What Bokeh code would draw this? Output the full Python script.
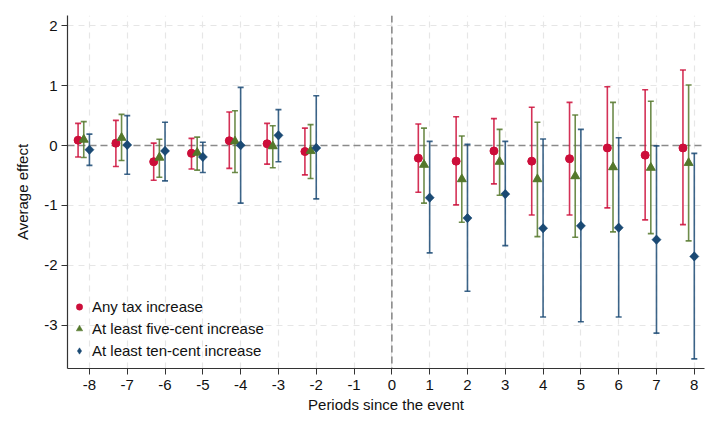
from bokeh.plotting import figure
from bokeh.models import (ColumnDataSource, Whisker, TeeHead, Span, Legend, LegendItem,
                          FixedTicker, Range1d, CustomJSTickFormatter)
from bokeh.embed import file_html
from bokeh.resources import INLINE
import math

periods = [-8, -7, -6, -5, -4, -3, -2, 1, 2, 3, 4, 5, 6, 7, 8]

any_est = [0.09, 0.04, -0.27, -0.13, 0.08, 0.03, -0.10, -0.21, -0.26, -0.09, -0.26, -0.22, -0.04, -0.16, -0.04]
any_lo = [-0.19, -0.35, -0.58, -0.39, -0.38, -0.31, -0.49, -0.78, -0.99, -0.64, -1.16, -1.16, -1.04, -1.24, -1.32]
any_hi = [0.37, 0.42, 0.04, 0.12, 0.56, 0.37, 0.29, 0.36, 0.48, 0.45, 0.64, 0.72, 0.98, 0.93, 1.26]

five_est = [0.10, 0.13, -0.20, -0.12, 0.07, -0.01, -0.09, -0.32, -0.56, -0.27, -0.56, -0.51, -0.36, -0.37, -0.29]
five_lo = [-0.20, -0.25, -0.53, -0.41, -0.45, -0.37, -0.55, -0.96, -1.28, -0.83, -1.52, -1.53, -1.44, -1.47, -1.59]
five_hi = [0.40, 0.52, 0.105, 0.14, 0.58, 0.33, 0.35, 0.29, 0.16, 0.27, 0.39, 0.51, 0.72, 0.74, 1.01]

ten_est = [-0.07, 0.01, -0.09, -0.19, 0.005, 0.17, -0.04, -0.87, -1.21, -0.81, -1.38, -1.34, -1.37, -1.57, -1.85]
ten_lo = [-0.33, -0.48, -0.59, -0.45, -0.96, -0.27, -0.89, -1.79, -2.43, -1.67, -2.86, -2.94, -2.86, -3.13, -3.56]
ten_hi = [0.19, 0.50, 0.39, 0.055, 0.97, 0.60, 0.83, 0.07, 0.02, 0.07, 0.11, 0.27, 0.13, -0.005, -0.13]

series_names = ["Any tax increase", "At least five-cent increase", "At least ten-cent increase"]
x_ticks = list(range(-8, 9))
y_ticks = [-3, -2, -1, 0, 1, 2]

FONT = "Liberation Sans"
colors = ["#cc0e3a", "#55782c", "#1b4a74"]
markers = ["circle", "triangle", "square"]
angles = [0.0, 0.0, math.pi / 4]
sizes = [8, 9, 6.5]
legend_markers = ["circle", "triangle", "diamond"]
legend_sizes = [8, 9, 9]
offsets = [-0.3, -0.15, 0.0]

p = figure(width=720, height=432, output_backend="svg", toolbar_location=None,
           x_range=Range1d(-8.58, 8.27), y_range=Range1d(-3.72, 2.17),
           min_border_left=67, min_border_right=16, min_border_top=15, min_border_bottom=64)
p.outline_line_color = None
p.background_fill_color = "white"
p.border_fill_color = "white"

fmt = CustomJSTickFormatter(code="return tick.toFixed(0);")
for ax in (p.xaxis[0], p.yaxis[0]):
    ax.axis_line_color = "#333333"
    ax.axis_line_width = 1.2
    ax.major_tick_line_color = "#333333"
    ax.major_tick_in = 0
    ax.major_tick_out = 6
    ax.minor_tick_line_color = None
    ax.major_label_text_font = FONT
    ax.major_label_text_font_size = "15px"
    ax.major_label_text_color = "#111111"
    ax.axis_label_text_font = FONT
    ax.axis_label_text_font_size = "15px"
    ax.axis_label_text_font_style = "normal"
    ax.axis_label_text_color = "#111111"
    ax.formatter = fmt

p.xaxis.ticker = FixedTicker(ticks=x_ticks)
p.yaxis.ticker = FixedTicker(ticks=y_ticks)
p.xaxis.axis_label = "Periods since the event"
p.yaxis.axis_label = "Average effect"
p.yaxis.major_label_orientation = "horizontal"
p.xaxis.major_label_standoff = 5
p.xaxis.axis_label_standoff = 3
p.yaxis.major_label_standoff = 4
p.yaxis.axis_label_standoff = 10

for g in (p.xgrid[0], p.ygrid[0]):
    g.grid_line_color = "#e6e6e6"
    g.grid_line_dash = "6 5"
    g.grid_line_width = 1.2

p.add_layout(Span(location=0, dimension="width", line_color="#8a8a8a", line_width=1.6,
                  line_dash="7 4", level="underlay"))
p.add_layout(Span(location=0, dimension="height", line_color="#8a8a8a", line_width=1.6,
                  line_dash="7 4", level="underlay"))

ests = [any_est, five_est, ten_est]
los = [any_lo, five_lo, ten_lo]
his = [any_hi, five_hi, ten_hi]

items = []
for i in range(3):
    src = ColumnDataSource(dict(x=[v + offsets[i] for v in periods], y=ests[i], lo=los[i], hi=his[i]))
    w = Whisker(base="x", lower="lo", upper="hi", source=src, dimension="height",
                line_color=colors[i], line_width=1.6, line_alpha=0.85,
                lower_head=TeeHead(size=6, line_color=colors[i], line_width=1.6, line_alpha=0.85),
                upper_head=TeeHead(size=6, line_color=colors[i], line_width=1.6, line_alpha=0.85),
                level="glyph")
    p.add_layout(w)
    # legend-shaped marker drawn first (hidden under the plotted marker)
    lr = p.scatter("x", "y", source=src, marker=legend_markers[i], size=legend_sizes[i],
                   fill_color=colors[i], line_color=colors[i], line_width=0.5)
    p.scatter("x", "y", source=src, marker=markers[i], size=sizes[i], angle=angles[i],
              fill_color=colors[i], line_color=colors[i], line_width=0.5)
    items.append(LegendItem(label=series_names[i], renderers=[lr]))

legend = Legend(items=items, location=(4, 7), orientation="vertical",
                background_fill_alpha=0, border_line_color=None,
                label_text_font=FONT, label_text_font_size="15px", label_text_color="#111111",
                glyph_width=16, glyph_height=21, label_height=21, label_standoff=5,
                spacing=1, padding=6, margin=0)
p.add_layout(legend, "center")

open("out.html", "w").write(file_html(p, INLINE))
